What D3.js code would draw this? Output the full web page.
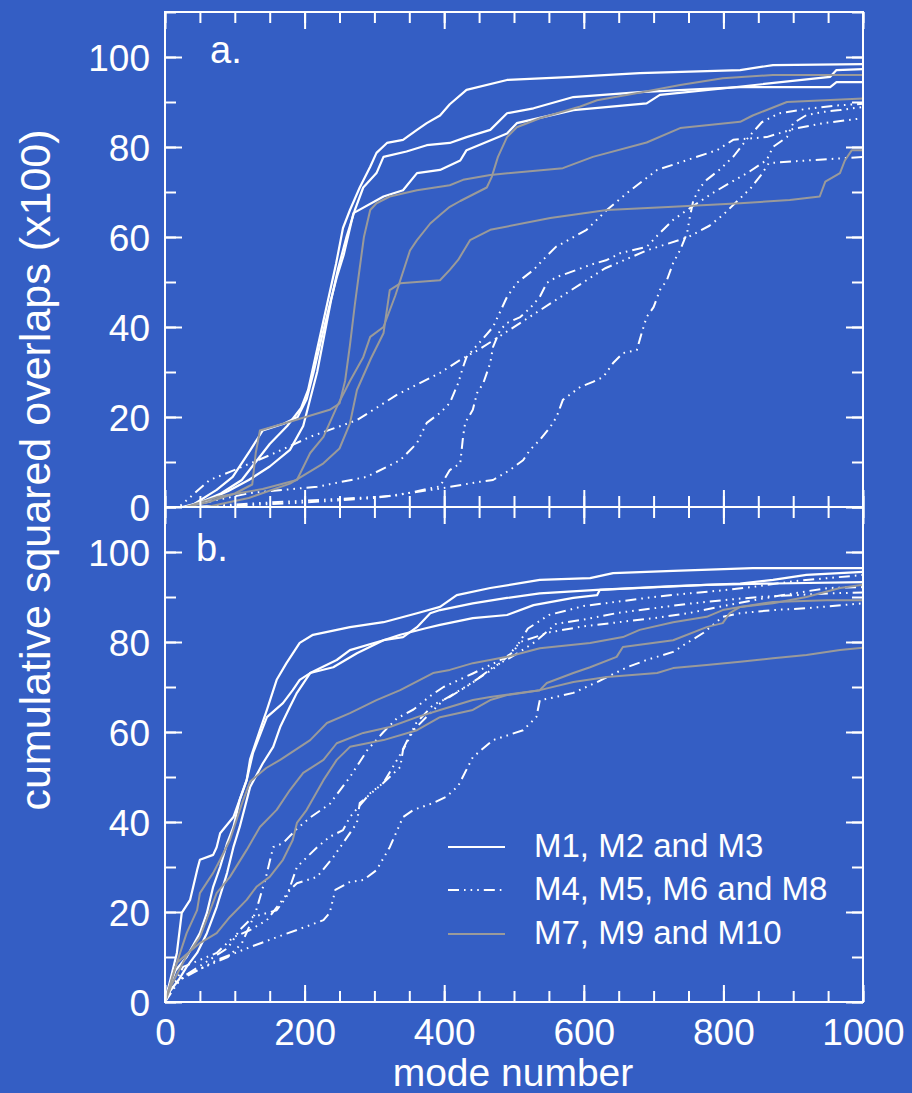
<!DOCTYPE html>
<html>
<head>
<meta charset="utf-8">
<script src="https://cdn.jsdelivr.net/npm/d3@7"></script>
<style>
  html, body { margin: 0; padding: 0; background: #345ec4; }
  svg { display: block; }
  text { font-family: "Liberation Sans", Arial, Helvetica, sans-serif; fill: #fff; }
</style>
</head>
<body>
<div id="chart"></div>
<script>
'use strict';

// x: mode number, y: cumulative squared overlap (x100)
const xMajor = [0, 200, 400, 600, 800, 1000];
const yMajor = [0, 20, 40, 60, 80, 100];

// panel a
const aM1 = [[0,0],[25,0],[50,1],[80,3],[110,6],[130,10],[150,14],[175,18],[195,22],[205,26],[215,33],[225,40],[235,47],[245,54],[255,62],[265,66],[279,71],[294,75.6],[303,78.7],[318,80.9],[341,81.6],[361,83.8],[375,85.3],[394,87],[408,89.5],[432,92.7],[490,94.9],[585,95.6],[680,96.4],[824,97.1],[871,98.2],[1000,98.4]];
const aM2 = [[0,0],[30,0],[60,1.5],[90,3.5],[120,6],[150,9],[179,12.7],[198,18],[208,24],[218,30],[228,38],[238,46],[248,53],[260,60],[272,66],[284,71],[303,74.2],[313,77.8],[346,79],[375,80.4],[408,80.9],[432,82.2],[466,83.8],[490,87.5],[528,88.6],[585,91.1],[680,92.2],[824,93.3],[953,93.3],[962,94.4],[1000,94.4]];
const aM3 = [[0,0],[35,0],[74,3.8],[97,6.7],[122,12.6],[140,17],[170,18.5],[190,20],[203,24],[213,30],[225,38],[236,45],[246,51],[256,56],[270,65.3],[313,69],[341,70.4],[361,74.2],[394,74.9],[423,77],[432,79.3],[490,83],[504,85.3],[585,88.2],[690,89.7],[709,91.6],[799,93],[953,95.6],[962,97.1],[1000,97.3]];
const aM4 = [[0,0],[26,0],[122,3.1],[218,4.5],[289,6.7],[337,10.4],[361,14.2],[375,18.7],[394,20.9],[408,23.1],[420,27.5],[427,31.1],[432,33.3],[456,37.5],[470,40],[490,46.7],[504,49.8],[528,52.7],[542,55],[560,57.8],[604,61.6],[633,66],[662,69.8],[705,74.9],[748,77.1],[791,79.3],[814,81.6],[862,82.2],[900,84],[943,85.3],[1000,86.4]];
const aM5 = [[0,0],[40,0],[150,1],[250,1.8],[330,2.5],[394,4.6],[408,8.2],[423,9.7],[427,15.6],[430,18.7],[441,21.6],[447,25.3],[456,27.5],[466,32],[470,35.6],[480,39.3],[490,40.9],[509,42.2],[523,44.2],[537,46.7],[547,49.8],[561,51.1],[590,52.7],[609,53.8],[633,54.9],[652,56.4],[690,57.8],[709,60.9],[728,63.8],[748,66],[785,69.8],[809,72],[834,74.2],[862,77.1],[871,80],[891,82.2],[900,85.3],[919,87.1],[943,87.8],[967,88.2],[1000,88.9]];
const aM6 = [[0,0],[60,0],[200,1],[300,2],[394,4.1],[451,5.6],[470,6],[494,8.2],[513,10.4],[523,12.7],[537,14.9],[552,17.8],[561,20],[570,23.8],[595,26.7],[613,27.8],[628,28.9],[642,32],[656,34.2],[676,34.9],[683,38.7],[690,42.2],[700,44.4],[709,48.2],[719,50.4],[728,54.2],[738,57.1],[748,60.9],[752,64.5],[757,68.2],[767,71.1],[776,72.7],[795,75],[815,78],[835,82],[855,85.5],[880,87.5],[920,88.5],[960,89.2],[1000,89.6]];
const aM8 = [[0,0],[20,0],[64,6],[93,7.8],[150,11.5],[208,15.6],[275,19.3],[332,24.9],[394,29.8],[423,32.7],[450,35],[480,38],[510,41],[540,44],[570,47],[600,50],[630,53],[660,55],[690,57],[720,58.5],[750,60],[780,62.5],[800,65],[820,68],[840,71],[855,74],[865,76.4],[900,76.8],[950,77.3],[1000,77.8]];
const aM7 = [[0,0],[30,0],[60,1],[100,3],[125,5],[130,12],[136,17],[180,19],[236,21.6],[250,23],[258,28],[265,36],[272,45],[278,52],[285,60],[294,66],[303,67.5],[322,69],[361,70.4],[408,71.5],[427,72.7],[466,73.8],[570,75.3],[613,77.8],[690,81],[738,84.2],[824,85.6],[842,87],[891,90],[1000,90.8]];
const aM9 = [[0,0],[30,0],[74,2.2],[140,4],[189,6],[208,12],[227,15.6],[246,22.2],[265,28],[284,33.3],[294,37.8],[313,40],[330,47],[351,57],[361,59.3],[380,63],[394,64.9],[408,66.7],[423,68],[461,71],[468,73.3],[477,77.8],[490,82.2],[504,84.4],[537,86.4],[595,89],[619,90.4],[685,92.2],[738,93.8],[799,95.3],[871,96],[1000,96]];
const aM10 = [[0,0],[60,0],[120,2],[179,5.2],[227,9.7],[250,13],[265,18.6],[275,26],[295,33],[313,38.6],[322,48.2],[337,49.7],[394,50.4],[408,52.7],[420,54.9],[437,59.3],[466,61.6],[552,64.2],[633,66],[728,66.7],[824,67.5],[895,68.2],[938,69],[946,72.3],[967,74.2],[974,77],[984,79.3],[1000,79.3]];

// panel b
const bM1 = [[0,0],[3,2],[17,10.9],[24,19.8],[36,22.7],[46,29.3],[50,31.6],[69,32.7],[74,34.4],[79,37.5],[98,41.1],[117,49.3],[122,54],[136,60.4],[146,64.9],[160,71.6],[174,75.3],[193,79.8],[212,81.6],[265,83.3],[313,84.4],[361,86.4],[394,87.8],[418,90.4],[466,92],[537,93.8],[609,94.2],[642,95.3],[728,95.8],[842,96.4],[1000,96.4]];
const bM2 = [[0,0],[5,3],[15,7],[31,10],[50,15.3],[60,19.8],[69,25.6],[79,30],[89,35.3],[98,38.9],[107,44.9],[117,49.3],[126,55.3],[146,63.3],[169,66.4],[183,69.3],[193,71.6],[208,73.1],[241,74.4],[275,77.5],[313,80.4],[341,81.1],[361,83.3],[380,86.4],[394,87.1],[441,88.6],[490,89.8],[537,90.8],[619,91.6],[728,92.4],[824,93],[871,93.8],[919,94.9],[1000,95.6]];
const bM3 = [[0,0],[5,2],[20,5],[31,7.8],[46,10.9],[60,15.3],[74,21.1],[89,28.7],[98,34.4],[107,38.9],[122,47.8],[140,53],[155,56.7],[165,61.1],[179,65.6],[189,68.7],[208,73.1],[246,76],[265,78.2],[313,80.4],[337,81.6],[375,83.1],[394,83.8],[441,85.3],[490,86],[528,88.2],[585,89.8],[619,90.4],[623,91.6],[680,92],[776,92.7],[871,93],[1000,93.3]];
const bM4 = [[0,0],[21,4.9],[74,9.3],[122,12.2],[160,14.4],[189,16],[227,18.2],[236,19.8],[244,24.9],[265,26.7],[284,27.1],[303,29.3],[322,34.4],[341,41.1],[356,42.7],[384,44.2],[403,45.6],[420,48],[441,54.4],[470,58.2],[513,60.4],[532,63.3],[537,67.1],[552,67.5],[585,68.7],[619,71.1],[662,74.4],[690,76],[728,77.8],[748,79.8],[771,82],[799,85.6],[824,86.4],[871,87.1],[919,87.5],[1000,88.6]];
const bM5 = [[0,0],[10,3.5],[30,6],[60,8],[90,10],[110,13],[130,20],[145,28],[155,34.4],[169,35.3],[189,38.5],[208,41],[236,44],[265,50],[290,56],[313,60],[332,63],[356,65],[380,68],[399,70],[441,73],[490,76.7],[509,80],[552,82.2],[600,83.5],[650,84.4],[700,85.3],[750,86.4],[800,88],[850,89.5],[900,90.8],[950,92],[1000,92.2]];
const bM6 = [[0,0],[26,7.8],[74,10.9],[98,14.4],[122,16],[146,18.2],[179,24.9],[189,26.4],[218,27.8],[241,32.2],[255,35.3],[275,39.8],[279,44.2],[313,48.7],[337,52.2],[341,56],[356,60.4],[380,64.2],[399,67.1],[430,70],[470,74],[500,78],[520,83],[550,86],[600,88],[650,89],[700,90],[750,90.8],[800,91.5],[850,92.4],[900,93.5],[950,94.2],[1000,94.9]];
const bM8 = [[0,0],[10,3],[30,6],[60,9],[90,12],[107,16],[126,18.9],[160,20.4],[174,23.3],[189,30],[218,34.4],[236,36.7],[255,38.2],[265,41.1],[294,46.4],[313,48.7],[337,55],[360,62],[384,66],[408,67.8],[441,71],[470,74.4],[500,77],[530,80],[560,84],[600,85],[650,86.5],[700,87.5],[750,88.5],[800,89.3],[850,90],[900,90.4],[950,90.8],[1000,91]];
const bM7 = [[0,0],[12,6.4],[31,15.3],[46,20.4],[50,24.2],[69,28.7],[79,31.6],[93,36],[110,44],[122,49],[145,52],[165,53.8],[208,58.2],[232,62],[265,64.2],[303,67.1],[337,69.3],[384,73.1],[408,73.8],[441,75.3],[490,76.7],[537,78.6],[609,79.8],[656,81.1],[680,82.7],[728,84.4],[776,85.6],[799,87.1],[824,87.8],[871,88.6],[919,90],[967,92],[1000,92.7]];
const bM9 = [[0,0],[10,4],[30,10],[50,14.4],[74,24.2],[93,27.8],[117,33.8],[136,38.9],[160,42.7],[179,47.1],[198,50.9],[227,53.8],[246,57.5],[284,59.8],[322,61.1],[361,63.3],[394,64.9],[441,67.1],[466,67.8],[537,69.3],[547,70.9],[585,73.1],[609,74.4],[647,76.7],[656,78.9],[728,80.4],[776,83.3],[799,84.2],[809,86.4],[824,87.8],[871,88.9],[948,89.3],[1000,89.3]];
const bM10 = [[0,0],[17,8.7],[30,10.5],[50,13.1],[74,15.3],[93,18.9],[117,22.7],[131,25.6],[150,27.8],[169,31.6],[183,36],[189,39.8],[203,42.7],[227,49.3],[246,53.8],[265,56.7],[313,58.2],[361,60.4],[394,63.3],[441,64.9],[466,67.1],[490,68.2],[537,69.3],[585,71.1],[633,72.2],[705,73.1],[728,74.2],[776,74.9],[824,75.6],[871,76.4],[919,77.1],[967,78.2],[1000,78.7]];

const groupNames = ['M1, M2 and M3', 'M4, M5, M6 and M8', 'M7, M9 and M10'];
const panelA = [[aM1, aM2, aM3], [aM4, aM5, aM6, aM8], [aM7, aM9, aM10]];
const panelB = [[bM1, bM2, bM3], [bM4, bM5, bM6, bM8], [bM7, bM9, bM10]];

const W = 912, H = 1093;
const left = 165, right = 863;
const panels = [
  { label: 'a.', top: 12, bottom: 507, groups: panelA, lx: 210, ly: 63 },
  { label: 'b.', top: 507, bottom: 1002, groups: panelB, lx: 196, ly: 561 }
];

const styles = [
  { color: '#ffffff', dash: null, width: 2.2 },
  { color: '#ffffff', dash: '11,5,1.6,5,1.6,5,1.6,5', width: 2 },
  { color: '#9a9a9a', dash: null, width: 2 }
];

const svg = d3.select('#chart').append('svg')
  .attr('width', W)
  .attr('height', H);

svg.append('rect').attr('width', W).attr('height', H).attr('fill', '#345ec4');

const x = d3.scaleLinear().domain([0, 1000]).range([left, right]);
const xMinor = d3.range(0, 1001, 50);
const yMinor = d3.range(0, 111, 10);

panels.forEach((p, i) => {
  const y = d3.scaleLinear().domain([0, 110]).range([p.bottom, p.top]);
  const g = svg.append('g');

  const clipId = 'clip' + i;
  svg.append('clipPath').attr('id', clipId)
    .append('rect')
    .attr('x', left).attr('y', p.top)
    .attr('width', right - left).attr('height', p.bottom - p.top);

  // curves
  const line = d3.line().x(d => x(d[0])).y(d => y(d[1]));
  const curves = g.append('g').attr('clip-path', `url(#${clipId})`);
  p.groups.forEach((grp, gi) => {
    const s = styles[gi];
    grp.forEach(series => {
      curves.append('path')
        .datum(series)
        .attr('d', line)
        .attr('fill', 'none')
        .attr('stroke', s.color)
        .attr('stroke-width', s.width)
        .attr('stroke-dasharray', s.dash)
        .attr('stroke-linejoin', 'round');
    });
  });

  // axes, ticks pointing inward
  const addAxis = (axis, tx, ty, labels) => {
    const a = g.append('g').attr('transform', `translate(${tx},${ty})`).call(axis);
    a.select('.domain').remove();
    a.selectAll('line').attr('stroke', '#fff').attr('stroke-width', 2);
    if (labels) a.selectAll('text').attr('font-size', 37).attr('fill', '#fff')
      .attr('font-family', '"Liberation Sans", Arial, sans-serif');
    return a;
  };

  addAxis(d3.axisLeft(y).tickValues(yMinor).tickSize(-11).tickFormat(''), left, 0);
  addAxis(d3.axisRight(y).tickValues(yMinor).tickSize(-11).tickFormat(''), right, 0);
  const yl = addAxis(d3.axisLeft(y).tickValues(yMajor).tickSize(-17).tickPadding(15).tickFormat(d3.format('d')), left, 0, true);
  yl.selectAll('text').attr('dy', '0.36em');
  addAxis(d3.axisRight(y).tickValues(yMajor).tickSize(-17).tickFormat(''), right, 0);

  addAxis(d3.axisTop(x).tickValues(xMinor).tickSize(-11).tickFormat(''), 0, p.top);
  addAxis(d3.axisTop(x).tickValues(xMajor).tickSize(-17).tickFormat(''), 0, p.top);
  addAxis(d3.axisBottom(x).tickValues(xMinor).tickSize(-11).tickFormat(''), 0, p.bottom);
  if (i === 1) {
    addAxis(d3.axisBottom(x).tickValues(xMajor).tickSize(-17).tickPadding(17).tickFormat(d3.format('d')), 0, p.bottom, true);
  } else {
    addAxis(d3.axisBottom(x).tickValues(xMajor).tickSize(-17).tickFormat(''), 0, p.bottom);
  }

  g.append('rect')
    .attr('x', left).attr('y', p.top)
    .attr('width', right - left).attr('height', p.bottom - p.top)
    .attr('fill', 'none').attr('stroke', '#fff').attr('stroke-width', 2);

  g.append('text')
    .attr('x', p.lx).attr('y', p.ly)
    .attr('font-size', 38)
    .text(p.label);
});

// legend in panel b
const legend = svg.append('g');
const legendRows = [847, 890, 934];
groupNames.forEach((name, i) => {
  const s = styles[i];
  legend.append('line')
    .attr('x1', 448).attr('x2', 505)
    .attr('y1', legendRows[i]).attr('y2', legendRows[i])
    .attr('stroke', s.color).attr('stroke-width', 2)
    .attr('stroke-dasharray', s.dash);
  legend.append('text')
    .attr('x', 534).attr('y', legendRows[i] + 10)
    .attr('font-size', 33)
    .text(name);
});

// axis titles
svg.append('text')
  .attr('x', 513).attr('y', 1086)
  .attr('text-anchor', 'middle')
  .attr('font-size', 39)
  .text('mode number');

svg.append('text')
  .attr('transform', 'translate(50,470) rotate(-90)')
  .attr('text-anchor', 'middle')
  .attr('font-size', 43)
  .text('cumulative squared overlaps (x100)');
</script>
</body>
</html>
